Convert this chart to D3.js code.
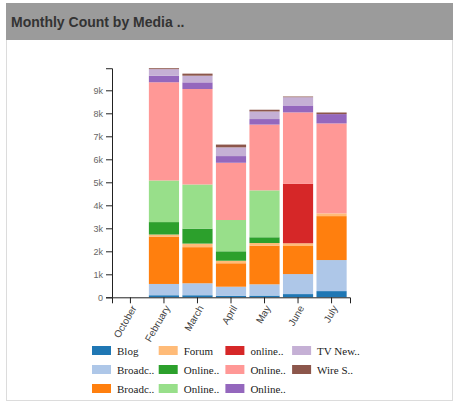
<!DOCTYPE html>
<html>
<head>
<meta charset="utf-8">
<script src="https://cdn.jsdelivr.net/npm/d3@7"></script>
<style>
  html, body { margin: 0; padding: 0; background: #ffffff; }
  svg { display: block; }
</style>
</head>
<body>
<svg id="chart" width="456" height="405"></svg>
<script>
// Months on the x axis
const months = ["October", "February", "March", "April", "May", "June", "July"];

// Monthly counts per media type (stacked bottom to top)
const blog        = [0,   90,   90,   60,   75,  140,  270];
const broadcastA  = [0,  490,  520,  400,  490,  870, 1350];
const broadcastB  = [0, 2060, 1570, 1020, 1680, 1220, 1910];
const forum       = [0,   90,  155,  110,  115,  120,  120];
const onlineA     = [0,  540,  650,  410,  250,    0,    0];
const onlineB     = [0, 1810, 1920, 1360, 2040,    0,    0];
const onlineC     = [0,    0,    0,    0,    0, 2580,    0];
const onlineD     = [0, 4270, 4150, 2490, 2860, 3110, 3910];
const onlineE     = [0,  280,  290,  290,  240,  300,  405];
const tvNews      = [0,  290,  290,  380,  330,  360,    0];
const wireService = [0,   40,   90,  120,   75,   30,   70];

// Legend labels, in stacking order
const seriesLabels = ["Blog", "Broadc..", "Broadc..", "Forum", "Online..", "Online..",
                      "online..", "Online..", "Online..", "TV New..", "Wire S.."];
const seriesValues = [blog, broadcastA, broadcastB, forum, onlineA, onlineB,
                      onlineC, onlineD, onlineE, tvNews, wireService];

// Y tick values
const yTicks = [0, 1000, 2000, 3000, 4000, 5000, 6000, 7000, 8000, 9000];

const colors = d3.schemeCategory10.flatMap((c, i) => [c, ["#aec7e8", "#ffbb78", "#98df8a", "#ff9896", "#c5b0d5", "#c49c94", "#f7b6d2", "#c7c7c7", "#dbdb8d", "#9edae5"][i]]);

const keys = seriesLabels.map((_, i) => "s" + i);
const table = months.map((m, mi) => {
  const row = { month: m };
  keys.forEach((k, si) => { row[k] = seriesValues[si][mi]; });
  return row;
});

const svg = d3.select("#chart");

// Panel frame and title bar
svg.append("rect")
  .attr("x", 6.5).attr("y", 3.5).attr("width", 446).attr("height", 397)
  .attr("fill", "#ffffff").attr("stroke", "#dcdcdc");
svg.append("rect")
  .attr("x", 6).attr("y", 3).attr("width", 447).attr("height", 37)
  .attr("fill", "#9b9b9b");
svg.append("text")
  .attr("x", 11).attr("y", 27)
  .attr("font-family", "Arial, 'Liberation Sans', sans-serif")
  .attr("font-size", 14).attr("font-weight", "bold")
  .attr("fill", "#333333")
  .text("Monthly Count by Media ..");

// Plot area
const x0 = 112, x1 = 350, yBase = 297.3;
const stack = d3.stack().keys(keys);
const series = stack(table);
const maxTotal = d3.max(series[series.length - 1], d => d[1]);

const x = d3.scaleBand().domain(months).range([x0, x1]).padding(0.1);
const y = d3.scaleLinear().domain([0, maxTotal]).range([yBase, yBase - maxTotal * 0.023]);
const color = d3.scaleOrdinal().domain(keys).range(colors);

const g = svg.append("g");

g.selectAll("g.layer")
  .data(series)
  .join("g")
  .attr("class", "layer")
  .attr("fill", d => color(d.key))
  .selectAll("rect")
  .data(d => d)
  .join("rect")
  .attr("x", d => x(d.data.month))
  .attr("width", x.bandwidth())
  .attr("y", d => y(d[1]))
  .attr("height", d => y(d[0]) - y(d[1]));

// Axes
const xAxis = g.append("g")
  .attr("transform", `translate(0,${yBase})`)
  .call(d3.axisBottom(x));
xAxis.selectAll("text")
  .attr("font-family", "Arial, 'Liberation Sans', sans-serif")
  .attr("font-size", 10)
  .attr("fill", "#444")
  .style("text-anchor", "end")
  .attr("dx", "-0.6em")
  .attr("dy", "0.2em")
  .attr("transform", "rotate(-60)");

const yAxis = g.append("g")
  .attr("transform", `translate(${x0},0)`)
  .call(d3.axisLeft(y).tickValues(yTicks).tickFormat(d3.format("~s")));
yAxis.selectAll("text")
  .attr("font-family", "Arial, 'Liberation Sans', sans-serif")
  .attr("font-size", 9)
  .attr("fill", "#666");

[xAxis, yAxis].forEach(a => {
  a.selectAll("path, line").attr("stroke", "#222");
});

// Legend, filled column by column
const legend = svg.append("g");
const rows = 3, colW = 66.7, rowH = 19;
seriesLabels.forEach((label, i) => {
  const col = Math.floor(i / rows), row = i % rows;
  const item = legend.append("g")
    .attr("transform", `translate(${92 + col * colW},${346 + row * rowH})`);
  item.append("rect")
    .attr("width", 19).attr("height", 9)
    .attr("fill", color(keys[i]));
  item.append("text")
    .attr("x", 25).attr("y", 8.5)
    .attr("font-family", "'Liberation Serif', 'Times New Roman', serif")
    .attr("font-size", 11)
    .attr("fill", "#222")
    .text(label);
});
</script>
</body>
</html>
